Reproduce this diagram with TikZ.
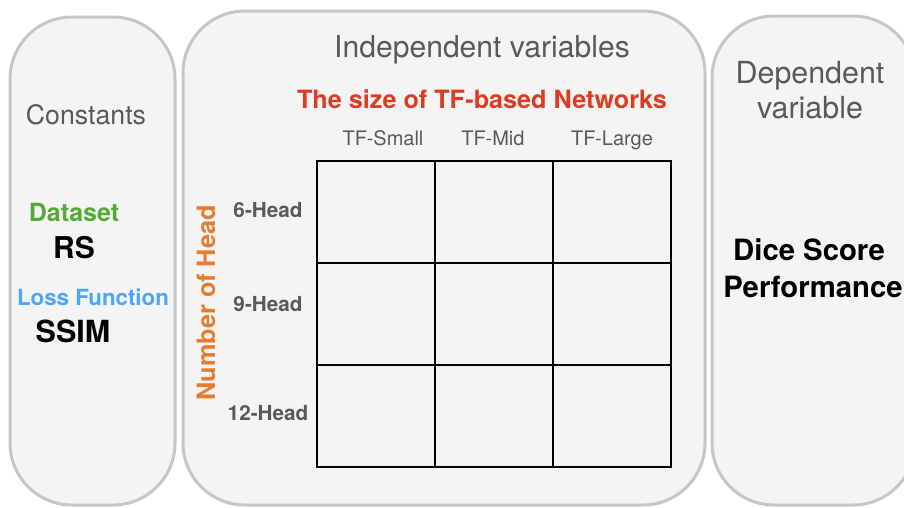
\documentclass[tikz,border=0pt]{standalone}
\usepackage{fontspec}
\setmainfont{TeX Gyre Heros}
\definecolor{panelfill}{HTML}{F4F4F4}
\definecolor{panelline}{HTML}{C6C6C6}
\definecolor{txtgray}{HTML}{595959}
\definecolor{titlered}{HTML}{E03A22}
\definecolor{headorange}{HTML}{E87B2C}
\definecolor{dsgreen}{HTML}{52AB33}
\definecolor{lfblue}{HTML}{4AA6F7}
\tikzset{
  panel/.style={draw=panelline, fill=panelfill, line width=3pt, rounded corners=62pt},
  cell/.style={draw=black, line width=1.8pt, minimum width=118pt, minimum height=102pt, inner sep=0pt, anchor=north west},
  lbl/.style={inner sep=0pt, anchor=base},
}
\begin{document}
\begin{tikzpicture}[x=1pt,y=-1pt]
\useasboundingbox (0,0) rectangle (904,507);
\clip (0,0) rectangle (904,507);
\fill[white] (0,0) rectangle (904,507);
% panels
\draw[panel] (10,17) rectangle (175,505);
\draw[panel] (183,11) rectangle (705,505);
\draw[panel] (712,16) rectangle (915,505);
% panel titles
\node[lbl, text=txtgray, font=\fontsize{26.7}{30}\selectfont] (const) at (86,124) {Constants};
\node[lbl, text=txtgray, font=\fontsize{30.1}{34}\selectfont] (indep) at (482,57) {Independent variables};
\node[lbl, text=txtgray, font=\fontsize{30.4}{34}\selectfont] (dep1) at (810,83) {Dependent};
\node[lbl, text=txtgray, font=\fontsize{30.4}{34}\selectfont] (dep2) at (810,118) {variable};
% constants
\node[lbl, text=dsgreen, font=\bfseries\fontsize{25}{28}\selectfont] (ds) at (74,221) {Dataset};
\node[lbl, text=black, font=\bfseries\fontsize{30}{34}\selectfont] (rs) at (74,258) {RS};
\node[lbl, text=lfblue, font=\bfseries\fontsize{22.3}{26}\selectfont] (lf) at (93,305) {Loss Function};
\node[lbl, text=black, font=\bfseries\fontsize{30.5}{34}\selectfont] (ssim) at (73,342) {SSIM};
% dependent
\node[lbl, text=black, font=\bfseries\fontsize{29.3}{33}\selectfont] (dice) at (809,260) {Dice Score};
\node[lbl, text=black, font=\bfseries\fontsize{29.3}{33}\selectfont] (perf) at (813,297) {Performance};
% independent
\node[lbl, text=titlered, font=\bfseries\fontsize{25.2}{28}\selectfont] (size) at (482,108) {The size of TF-based Networks};
\node[lbl, text=txtgray, font=\fontsize{20}{22}\selectfont] (cs) at (383,145) {TF-Small};
\node[lbl, text=txtgray, font=\fontsize{20}{22}\selectfont] (cm) at (493,145) {TF-Mid};
\node[lbl, text=txtgray, font=\fontsize{20}{22}\selectfont] (cl) at (612,145) {TF-Large};
\node[lbl, text=txtgray, font=\bfseries\fontsize{20.7}{23}\selectfont] (h6) at (268,217) {6-Head};
\node[lbl, text=txtgray, font=\bfseries\fontsize{20.7}{23}\selectfont] (h9) at (268,311) {9-Head};
\node[lbl, text=txtgray, font=\bfseries\fontsize{20.7}{23}\selectfont] (h12) at (268,420) {12-Head};
\node[lbl, text=headorange, font=\bfseries\fontsize{25.3}{28}\selectfont, rotate=90] (noh) at (215,303) {Number of Head};
% grid
\foreach \r/\y in {1/160,2/262,3/364}{
  \foreach \c/\x in {1/316,2/434,3/552}{
    \node[cell] (c\r\c) at (\x,\y) {};
  }
}
\end{tikzpicture}
\end{document}
